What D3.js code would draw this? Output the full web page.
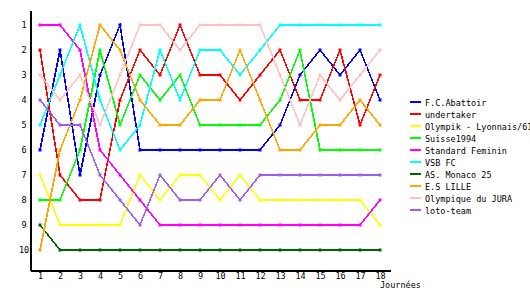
<!DOCTYPE html>
<html>
<head>
<meta charset="utf-8">
<script src="https://cdn.jsdelivr.net/npm/d3@7"></script>
<style>
  body { margin: 0; background: #fff; }
  svg text { font-family: "DejaVu Sans Mono", monospace; font-size: 8.5px; fill: #000; }
</style>
</head>
<body>
<div id="chart"></div>
<script>
// Journées (match days) and ranking per team
const journees = d3.range(1, 19);
const rankTicks = d3.range(1, 11);

const teams = [
  "F.C.Abattoir", "undertaker", "Olympik - Lyonnais/61", "Suisse1994",
  "Standard Feminin", "VSB FC", "AS. Monaco 25", "E.S LILLE",
  "Olympique du JURA", "loto-team"
];

const abattoir   = [6, 2, 7, 3, 1, 6, 6, 6, 6, 6, 6, 6, 5, 3, 2, 3, 2, 4];
const undertaker = [2, 7, 8, 8, 4, 2, 3, 1, 3, 3, 4, 3, 2, 4, 4, 2, 5, 3];
const olympik    = [7, 9, 9, 9, 9, 7, 8, 7, 7, 8, 7, 8, 8, 8, 8, 8, 8, 9];
const suisse     = [8, 8, 6, 2, 5, 3, 4, 3, 5, 5, 5, 5, 4, 2, 6, 6, 6, 6];
const standard   = [1, 1, 2, 6, 7, 8, 9, 9, 9, 9, 9, 9, 9, 9, 9, 9, 9, 8];
const vsb        = [5, 3, 1, 4, 6, 5, 2, 4, 2, 2, 3, 2, 1, 1, 1, 1, 1, 1];
const monaco     = [9, 10, 10, 10, 10, 10, 10, 10, 10, 10, 10, 10, 10, 10, 10, 10, 10, 10];
const lille      = [10, 6, 4, 1, 2, 4, 5, 5, 4, 4, 2, 4, 6, 6, 5, 5, 4, 5];
const jura       = [3, 4, 3, 5, 3, 1, 1, 2, 1, 1, 1, 1, 3, 5, 3, 4, 3, 2];
const loto       = [4, 5, 5, 7, 8, 9, 7, 8, 8, 7, 8, 7, 7, 7, 7, 7, 7, 7];

const seriesValues = [abattoir, undertaker, olympik, suisse, standard, vsb, monaco, lille, jura, loto];
const colors = ["#0000ff", "#ff0000", "#ffff00", "#00ff00", "#ff00ff",
                "#00ffff", "#006400", "#ffa500", "#ffc0c0", "#a05cf0"];

const series = teams.map((name, i) => ({
  name,
  color: colors[i],
  values: seriesValues[i].map((r, j) => ({ j: journees[j], r }))
}));

const svg = d3.select("#chart").append("svg")
  .attr("width", 530)
  .attr("height", 300);

const x = d3.scaleLinear().domain([0.5, 18.5]).range([30, 390]);
const y = d3.scaleLinear().domain([0.4, 10.8]).range([10, 270]);

// axes (no tick marks, just the lines and labels)
const xAxis = svg.append("g")
  .attr("transform", "translate(0,270)")
  .call(d3.axisBottom(x).tickValues(journees).tickSize(0).tickSizeOuter(0).tickPadding(3));
const yAxis = svg.append("g")
  .attr("transform", "translate(30,0)")
  .call(d3.axisLeft(y).tickValues(rankTicks).tickSize(0).tickSizeOuter(0).tickPadding(4));

[xAxis, yAxis].forEach(a => {
  a.select(".domain").attr("stroke", "#000").attr("stroke-width", 2).attr("shape-rendering", "crispEdges");
  a.selectAll("text").style("font-family", "DejaVu Sans Mono, monospace").style("font-size", "8.5px");
});
yAxis.selectAll("text").attr("text-anchor", "middle").attr("x", -6);

svg.append("text")
  .attr("x", 380)
  .attr("y", 288)
  .text("Journées");

// lines
const line = d3.line().x(d => x(d.j)).y(d => y(d.r));

const groups = svg.selectAll(".team")
  .data(series)
  .join("g")
  .attr("class", "team");

groups.append("path")
  .attr("d", d => line(d.values))
  .attr("fill", "none")
  .attr("stroke", d => d.color)
  .attr("stroke-width", 1.6)
  .attr("shape-rendering", "crispEdges");

groups.selectAll("rect")
  .data(d => d.values.map(v => ({ ...v, color: d.color })))
  .join("rect")
  .attr("x", d => x(d.j) - 1.5)
  .attr("y", d => y(d.r) - 1.5)
  .attr("width", 3)
  .attr("height", 3)
  .attr("fill", d => d.color);

// legend
const legend = svg.append("g").attr("transform", "translate(410,104)");
series.forEach((s, i) => {
  const item = legend.append("g").attr("transform", `translate(0,${i * 12})`);
  item.append("line")
    .attr("x1", 0).attr("x2", 11)
    .attr("y1", -2).attr("y2", -2)
    .attr("stroke", s.color)
    .attr("stroke-width", 2);
  item.append("text")
    .attr("x", 15)
    .attr("y", 2)
    .text(s.name);
});
</script>
</body>
</html>
